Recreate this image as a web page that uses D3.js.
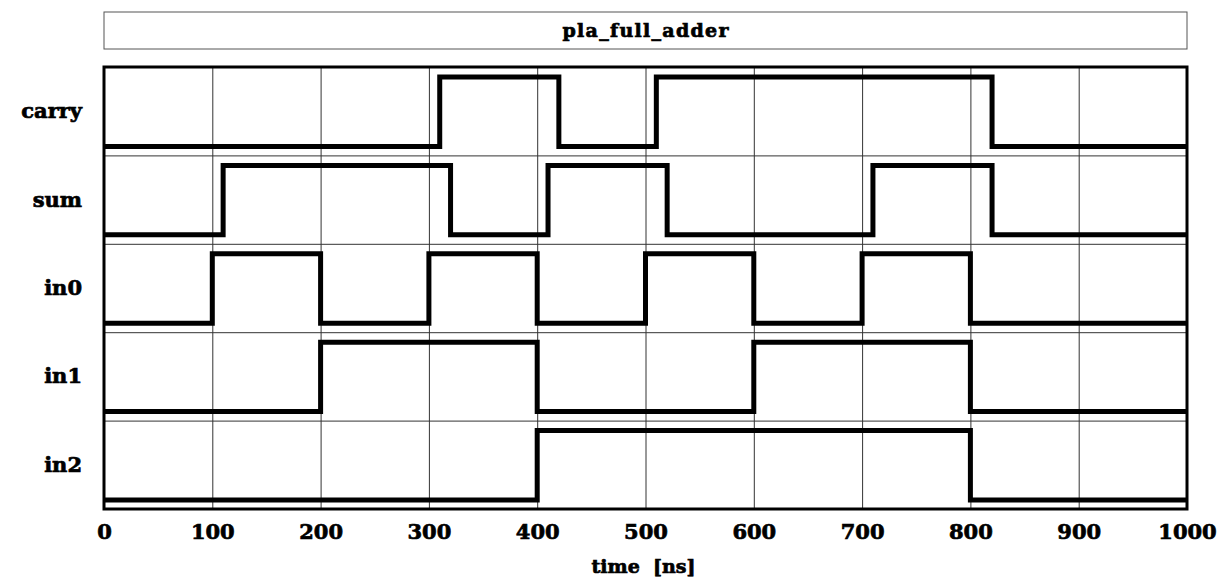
<!DOCTYPE html>
<html lang="en">
<head>
    <meta charset="UTF-8">
    <title>pla_full_adder</title>
    <script type="text/javascript" src="https://d3js.org/d3.v7.min.js"></script>
    <style>
        body { margin: 0; background: #fff; }
        text { font-family: "DejaVu Serif", serif; font-weight: bold; fill: #000; stroke: #000; stroke-width: 0.7px; }
    </style>
</head>
<body>
<svg class="wave"></svg>

<script type="text/javascript">

    const width = 1217;
    const height = 584;

    const title = "pla_full_adder";
    const signals = ["carry", "sum", "in0", "in1", "in2"];
    // transitions: [time, level]
    const carry = [[0, 0], [310, 1], [420, 0], [510, 1], [820, 0]];
    const sum = [[0, 0], [110, 1], [320, 0], [410, 1], [520, 0], [710, 1], [820, 0]];
    const in0 = [[0, 0], [100, 1], [200, 0], [300, 1], [400, 0], [500, 1], [600, 0], [700, 1], [800, 0]];
    const in1 = [[0, 0], [200, 1], [400, 0], [600, 1], [800, 0]];
    const in2 = [[0, 0], [400, 1], [800, 0]];
    const waves = [carry, sum, in0, in1, in2];
    const xTicks = [0, 100, 200, 300, 400, 500, 600, 700, 800, 900, 1000];
    const xLabel = "time  [ns]";

    let pLeft = 104, pRight = 1187, pTop = 67, pBottom = 509;

    let svg = d3.select(".wave")
        .attr("width", width)
        .attr("height", height);

    let x = d3.scaleLinear().domain([0, 1000]).range([pLeft, pRight]);
    let row = d3.scaleBand().domain(signals).range([pTop, pBottom]);

    // title box
    svg.append("rect")
        .attr("x", pLeft).attr("y", 12)
        .attr("width", pRight - pLeft).attr("height", 37)
        .attr("fill", "none").attr("stroke", "#555").attr("stroke-width", 1);
    svg.append("text")
        .attr("x", (pLeft + pRight) / 2).attr("y", 37)
        .attr("text-anchor", "middle")
        .style("font-size", "19px")
        .attr("textLength", 166)
        .text(title);

    // grid
    svg.selectAll(".vgrid").data(xTicks.slice(1, -1)).enter().append("line")
        .attr("x1", d => x(d) + 0.5).attr("x2", d => x(d) + 0.5)
        .attr("y1", pTop).attr("y2", pBottom)
        .attr("stroke", "#333").attr("stroke-width", 1);
    svg.selectAll(".hgrid").data(signals.slice(1)).enter().append("line")
        .attr("x1", pLeft).attr("x2", pRight)
        .attr("y1", d => row(d) + 0.5).attr("y2", d => row(d) + 0.5)
        .attr("stroke", "#333").attr("stroke-width", 1);

    // waveforms
    let line = d3.line().curve(d3.curveStepAfter);
    waves.forEach(function (w, i) {
        let y0 = row(signals[i]);
        let hi = y0 + 10, lo = y0 + row.bandwidth() - 9;
        let pts = w.map(d => [x(d[0]), d[1] ? hi : lo]);
        pts.push([x(1000), w[w.length - 1][1] ? hi : lo]);
        svg.append("path")
            .attr("d", line(pts))
            .attr("fill", "none")
            .attr("stroke", "#000")
            .attr("stroke-width", 5)
            .attr("stroke-linejoin", "miter");

        svg.append("text")
            .attr("x", 82)
            .attr("y", y0 + row.bandwidth() / 2 + 7)
            .attr("text-anchor", "end")
            .style("font-size", "21px")
            .text(signals[i]);
    });

    // frame
    svg.append("rect")
        .attr("x", pLeft).attr("y", pTop)
        .attr("width", pRight - pLeft).attr("height", pBottom - pTop)
        .attr("fill", "none").attr("stroke", "#000").attr("stroke-width", 3);

    // x axis
    let axis = svg.append("g")
        .attr("transform", "translate(0," + (pBottom + 30) + ")")
        .call(d3.axisBottom(x).tickValues(xTicks).tickFormat(d3.format("d")).tickSize(0).tickPadding(0));
    axis.select(".domain").remove();
    axis.selectAll("text")
        .attr("y", 0)
        .attr("dy", null)
        .style("font-family", "'DejaVu Serif', serif")
        .style("font-weight", "bold")
        .style("font-size", "21px");

    svg.append("text")
        .attr("x", (pLeft + pRight) / 2 - 2).attr("y", 573)
        .attr("text-anchor", "middle")
        .style("white-space", "pre")
        .style("font-size", "19px")
        .text(xLabel);

</script>

</body>
</html>
